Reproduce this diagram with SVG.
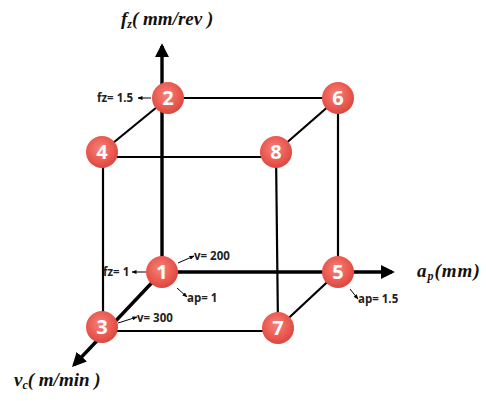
<svg xmlns="http://www.w3.org/2000/svg" width="486" height="401" viewBox="0 0 486 401">
<style>
.edge{stroke:#000;stroke-width:2.2;fill:none}
.axis{stroke:#000;stroke-width:3.4;fill:none}
.small{stroke:#000;stroke-width:1;fill:none}
.num{font-family:"Open Sans","Liberation Sans",sans-serif;font-weight:bold;font-size:20px;fill:#fff;text-anchor:middle}
.lbl{font-family:"Open Sans","Liberation Sans",sans-serif;font-weight:bold;font-size:11.5px;fill:#222}
.ax{font-family:"Liberation Serif",serif;font-weight:bold;font-style:italic;font-size:19px;fill:#111}
</style>
<defs>
<radialGradient id="g" cx="45%" cy="40%" r="60%">
<stop offset="0" stop-color="#f4837a"/>
<stop offset="0.7" stop-color="#e9574e"/>
<stop offset="1" stop-color="#d94840"/>
</radialGradient>
<marker id="big" viewBox="0 0 10 10" refX="8" refY="5" markerWidth="4.2" markerHeight="4.2" orient="auto" markerUnits="strokeWidth">
<path d="M0,0 L10,5 L0,10 Z" fill="#000"/>
</marker>
<marker id="sm" viewBox="0 0 10 10" refX="9" refY="5" markerWidth="5" markerHeight="5" orient="auto" markerUnits="strokeWidth">
<path d="M0,1 L10,5 L0,9 Z" fill="#000"/>
</marker>
</defs>
<g id="connectors">
<line class="edge" x1="168" y1="98" x2="338" y2="98"/>
<line class="edge" x1="102" y1="157" x2="276" y2="157"/>
<line class="edge" x1="102" y1="152" x2="168" y2="98"/>
<line class="edge" x1="276" y1="152" x2="338" y2="98"/>
<line class="edge" x1="103" y1="152" x2="103" y2="326"/>
<line class="edge" x1="276" y1="152" x2="278" y2="328"/>
<line class="edge" x1="338" y1="98" x2="338" y2="272"/>
<line class="edge" x1="102" y1="331" x2="278" y2="331"/>
<line class="edge" x1="278" y1="328" x2="338" y2="272"/>
<line class="axis" x1="162" y1="272" x2="162" y2="46" marker-end="url(#big)"/>
<line class="axis" x1="162" y1="272" x2="392" y2="272" marker-end="url(#big)"/>
<line class="axis" x1="162" y1="272" x2="74" y2="365" marker-end="url(#big)"/>
<line class="small" x1="151" y1="98" x2="138" y2="98" marker-end="url(#sm)"/>
<line class="small" x1="147" y1="272" x2="132" y2="272" marker-end="url(#sm)"/>
<line class="small" x1="178" y1="263" x2="194" y2="256" marker-end="url(#sm)"/>
<line class="small" x1="177" y1="288" x2="187" y2="297" marker-end="url(#sm)"/>
<line class="small" x1="118" y1="323" x2="137" y2="317" marker-end="url(#sm)"/>
<line class="small" x1="350" y1="289" x2="358" y2="299" marker-end="url(#sm)"/>
</g>
<g id="n1"><circle cx="162" cy="272" r="16" fill="url(#g)"/><text class="num" x="162" y="279">1</text></g>
<g id="n2"><circle cx="168" cy="98" r="16" fill="url(#g)"/><text class="num" x="168" y="105">2</text></g>
<g id="n3"><circle cx="102" cy="327" r="16" fill="url(#g)"/><text class="num" x="102" y="334">3</text></g>
<g id="n4"><circle cx="102" cy="152" r="16" fill="url(#g)"/><text class="num" x="102" y="159">4</text></g>
<g id="n5"><circle cx="338" cy="272" r="16" fill="url(#g)"/><text class="num" x="338" y="279">5</text></g>
<g id="n6"><circle cx="338" cy="98" r="16" fill="url(#g)"/><text class="num" x="338" y="105">6</text></g>
<g id="n7"><circle cx="278" cy="328" r="16" fill="url(#g)"/><text class="num" x="278" y="335">7</text></g>
<g id="n8"><circle cx="276" cy="152" r="16" fill="url(#g)"/><text class="num" x="276" y="159">8</text></g>
<g id="labels">
<text class="lbl" x="97" y="102">fz= 1.5</text>
<text class="lbl" x="103" y="276">fz= 1</text>
<text class="lbl" x="194" y="260">v= 200</text>
<text class="lbl" x="187" y="302">ap= 1</text>
<text class="lbl" x="137" y="322">v= 300</text>
<text class="lbl" x="358" y="303">ap= 1.5</text>
<text class="ax" x="121" y="25">f<tspan font-size="12" dy="3">z</tspan><tspan dy="-3">( mm/rev )</tspan></text>
<text class="ax" x="417" y="277" letter-spacing="1">a<tspan font-size="12" dy="3">p</tspan><tspan dy="-3">(mm)</tspan></text>
<text class="ax" x="14" y="386">v<tspan font-size="12" dy="3">c</tspan><tspan dy="-3">( m/min )</tspan></text>
</g>
</svg>
